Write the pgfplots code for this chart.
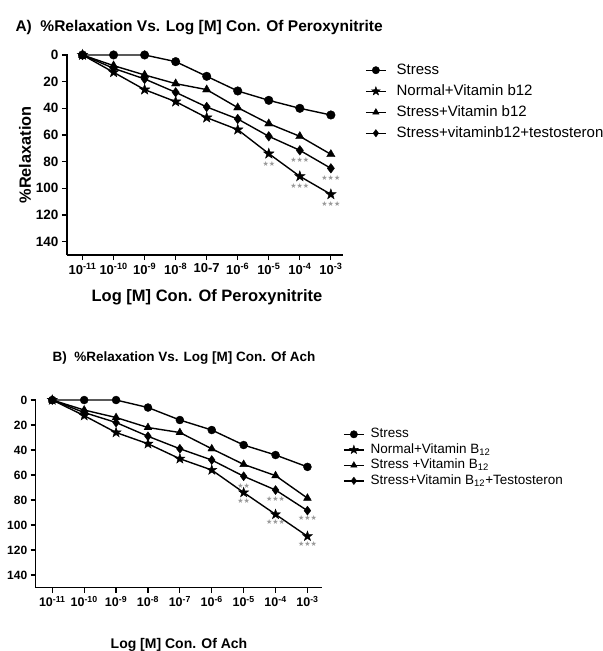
\documentclass[border=0pt]{standalone}
\usepackage{fontspec}
\setmainfont{Liberation Sans}
\newfontfamily\djv{DejaVu Sans}
\usepackage{pgfplots}
\pgfplotsset{compat=1.18}
\usetikzlibrary{plotmarks}

\pgfdeclareplotmark{fstar}{%
 \pgfpathmoveto{\pgfpointpolar{90}{1.25\pgfplotmarksize}}%
 \pgfpathlineto{\pgfpointpolar{126}{0.5\pgfplotmarksize}}%
 \pgfpathlineto{\pgfpointpolar{162}{1.25\pgfplotmarksize}}%
 \pgfpathlineto{\pgfpointpolar{198}{0.5\pgfplotmarksize}}%
 \pgfpathlineto{\pgfpointpolar{234}{1.25\pgfplotmarksize}}%
 \pgfpathlineto{\pgfpointpolar{270}{0.5\pgfplotmarksize}}%
 \pgfpathlineto{\pgfpointpolar{306}{1.25\pgfplotmarksize}}%
 \pgfpathlineto{\pgfpointpolar{342}{0.5\pgfplotmarksize}}%
 \pgfpathlineto{\pgfpointpolar{18}{1.25\pgfplotmarksize}}%
 \pgfpathlineto{\pgfpointpolar{54}{0.5\pgfplotmarksize}}%
 \pgfpathclose
 \pgfusepathqfillstroke}

\pgfplotsset{
 myaxis/.style={
  scale only axis,
  axis x line*=bottom, axis y line*=left,
  axis line style={line width=1.4bp, black},
  tick align=outside,
  major tick length=5bp,
  tick style={line width=1.2bp, black},
  xtick={-11,-10,-9,-8,-7,-6,-5,-4,-3},
  ytick={-140,-120,-100,-80,-60,-40,-20,0},
  yticklabels={140,120,100,80,60,40,20,0},
  ymin=-150, ymax=0.5,
  clip=false,
  legend cell align=left,
  legend image code/.code={\draw[mark repeat=2,mark phase=2,##1,mark size=3.7bp] plot coordinates {(0bp,0bp) (10bp,0bp) (20bp,0bp)};},
  every axis plot/.append style={line width=1.4bp, black},
 },
 sCirc/.style={mark=*, mark size=4.3bp, mark options={solid, fill=black, line width=0.4bp}},
 sStar/.style={mark=fstar, mark size=4.4bp, mark options={solid, fill=black, line width=0.4bp}},
 sTri/.style={mark=triangle*, mark size=4.8bp, mark options={solid, fill=black, line width=0.4bp}},
 sDia/.style={mark=diamond*, mark size=4.8bp, mark options={solid, fill=black, line width=0.4bp}},
}
\newcommand{\sig}[1]{{\fontsize{7bp}{8bp}\djv #1}}

\begin{document}
\begin{tikzpicture}
\path[use as bounding box] (0,0) rectangle (603bp,-651bp);

% ---------- Panel A ----------
\node[anchor=base west, font=\bfseries\fontsize{15.5bp}{18bp}\selectfont] at (12bp,-31bp) {A)\ \ \%Relaxation Vs. Log [M] Con. Of Peroxynitrite};
\begin{axis}[myaxis,
  at={(67bp,-255bp)}, anchor=south west,
  width=276.3bp, height=200.7bp,
  xmin=-11.5, xmax=-2.6,
  xticklabels={10\textsuperscript{-11},10\textsuperscript{-10},10\textsuperscript{-9},10\textsuperscript{-8},10-7,10\textsuperscript{-6},10\textsuperscript{-5},10\textsuperscript{-4},10\textsuperscript{-3}},
  xticklabel style={font=\bfseries\fontsize{13bp}{14bp}\selectfont},
  yticklabel style={font=\bfseries\fontsize{13.5bp}{14bp}\selectfont},
  legend style={draw=none, fill=none, at={(1.0785,0.9566)}, anchor=north west,
    inner sep=0pt, row sep=7bp, column sep=10bp,
    font=\fontsize{15bp}{16bp}\selectfont,
    nodes={inner sep=0pt, text height=11bp, text depth=3bp}},
]
\addplot[sCirc] coordinates {(-11,0)(-10,0)(-9,0)(-8,-5)(-7,-16)(-6,-27)(-5,-34)(-4,-40)(-3,-45)};
\addlegendentry{Stress}
\addplot[sStar] coordinates {(-11,0)(-10,-13)(-9,-26)(-8,-35)(-7,-47)(-6,-56)(-5,-74)(-4,-91)(-3,-104.5)};
\addlegendentry{Normal+Vitamin b12}
\addplot[sTri] coordinates {(-11,0)(-10,-8)(-9,-15)(-8,-21.5)(-7,-26)(-6,-39.5)(-5,-51.5)(-4,-61)(-3,-74.5)};
\addlegendentry{Stress+Vitamin b12}
\addplot[sDia] coordinates {(-11,0)(-10,-10)(-9,-18)(-8,-28)(-7,-39)(-6,-48)(-5,-61)(-4,-71.5)(-3,-85)};
\addlegendentry{Stress+vitaminb12+testosteron}
\node[text=gray!80] at (axis cs:-5,-81.5) {\sig{★★}};
\node[text=gray!80] at (axis cs:-4,-79) {\sig{★★★}};
\node[text=gray!80] at (axis cs:-4,-98.5) {\sig{★★★}};
\node[text=gray!80] at (axis cs:-3,-92) {\sig{★★★}};
\node[text=gray!80] at (axis cs:-3,-111.5) {\sig{★★★}};
\end{axis}
\node[anchor=center, rotate=90, font=\bfseries\fontsize{16.3bp}{18bp}\selectfont] at (25bp,-155bp) {\%Relaxation};
\node[anchor=base, font=\bfseries\fontsize{16.5bp}{18bp}\selectfont] at (207bp,-301.7bp) {Log [M] Con. Of Peroxynitrite};

% ---------- Panel B ----------
\node[anchor=base west, font=\bfseries\fontsize{13.5bp}{15bp}\selectfont] at (49bp,-361.7bp) {B)\ \ \%Relaxation Vs. Log [M] Con. Of Ach};
\begin{axis}[myaxis,
  at={(35.7bp,-587.5bp)}, anchor=south west,
  width=286.1bp, height=188.1bp,
  xmin=-11.52, xmax=-2.55,
  xticklabels={10\textsuperscript{-11},10\textsuperscript{-10},10\textsuperscript{-9},10\textsuperscript{-8},10\textsuperscript{-7},10\textsuperscript{-6},10\textsuperscript{-5},10\textsuperscript{-4},10\textsuperscript{-3}},
  xticklabel style={font=\bfseries\fontsize{12.5bp}{13bp}\selectfont},
  yticklabel style={font=\bfseries\fontsize{12bp}{13bp}\selectfont},
  legend style={draw=none, fill=none, at={(1.074,0.85)}, anchor=north west,
    inner sep=0pt, row sep=2.5bp, column sep=6bp,
    font=\fontsize{13.5bp}{14bp}\selectfont,
    nodes={inner sep=0pt, text height=10bp, text depth=3bp}},
]
\addplot[sCirc, mark size=4bp] coordinates {(-11,0)(-10,0)(-9,0)(-8,-6)(-7,-16)(-6,-24)(-5,-36)(-4,-44)(-3,-53.5)};
\addlegendentry{Stress}
\addplot[sStar, mark size=4.2bp] coordinates {(-11,0)(-10,-12.5)(-9,-26)(-8,-35)(-7,-47)(-6,-56)(-5,-74)(-4,-91.5)(-3,-109)};
\addlegendentry{Normal+Vitamin B\textsubscript{12}}
\addplot[sTri, mark size=4.5bp] coordinates {(-11,0)(-10,-8)(-9,-14)(-8,-22)(-7,-26)(-6,-39)(-5,-51.5)(-4,-60.5)(-3,-78.5)};
\addlegendentry{Stress +Vitamin B\textsubscript{12}}
\addplot[sDia, mark size=4.5bp] coordinates {(-11,0)(-10,-10)(-9,-18)(-8,-29)(-7,-39)(-6,-48)(-5,-61)(-4,-72)(-3,-88.5)};
\addlegendentry{Stress+Vitamin B\textsubscript{12}+Testosteron}
\node[text=gray!80] at (axis cs:-5,-68.5) {\sig{★★}};
\node[text=gray!80] at (axis cs:-5,-80.5) {\sig{★★}};
\node[text=gray!80] at (axis cs:-4,-79.5) {\sig{★★★}};
\node[text=gray!80] at (axis cs:-4,-97.5) {\sig{★★★}};
\node[text=gray!80] at (axis cs:-3,-94.5) {\sig{★★★}};
\node[text=gray!80] at (axis cs:-3,-115.5) {\sig{★★★}};
\end{axis}
\node[anchor=base, font=\bfseries\fontsize{14bp}{16bp}\selectfont] at (179bp,-648bp) {Log [M] Con. Of Ach};
\end{tikzpicture}
\end{document}
